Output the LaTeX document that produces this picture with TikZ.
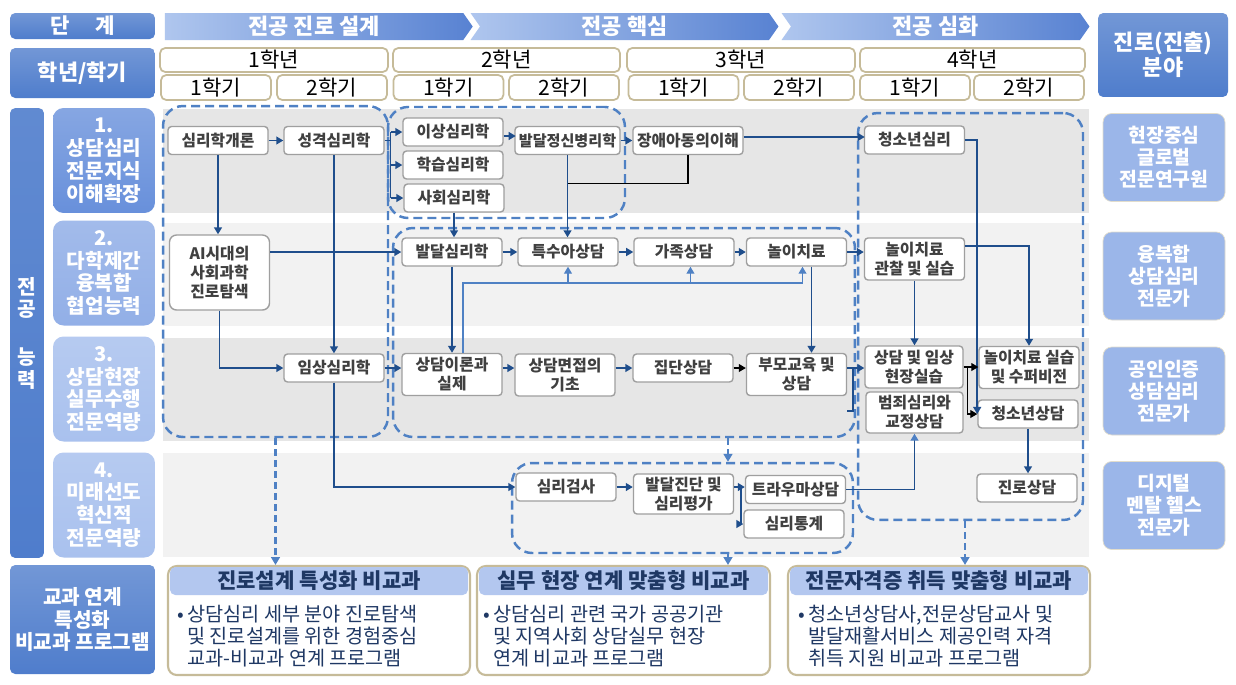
\documentclass[tikz,border=0pt]{standalone}
\usepackage{fontspec}
\setmainfont{Noto Sans CJK KR}
\usetikzlibrary{arrows.meta,shapes.symbols}

\definecolor{navy}{HTML}{1F4E8C}
\definecolor{grpblue}{HTML}{4F81C4}
\definecolor{hdrblue}{HTML}{4F7DCC}
\definecolor{chevlight}{HTML}{AFC6EE}
\definecolor{chevdark}{HTML}{5882D2}
\definecolor{compA}{HTML}{6890DB}
\definecolor{compB}{HTML}{92AFE7}
\definecolor{compC}{HTML}{A9C1EE}
\definecolor{goalblue}{HTML}{9BB6E9}
\definecolor{tanline}{HTML}{C6BB99}
\definecolor{bandgray}{HTML}{E6E6E6}
\definecolor{bandlight}{HTML}{F2F2F2}
\definecolor{textgray}{HTML}{404040}
\definecolor{headfill}{HTML}{B3C7EF}
\definecolor{progtext}{HTML}{1F3864}

\begin{document}
\begin{tikzpicture}[x=0.02cm, y=-0.02cm, >={Triangle[length=4pt,width=4.5pt]}, node distance=2.32cm,
	hdr/.style={top color=hdrblue!80!white, bottom color=hdrblue, rounded corners=3pt, text=white, font=\bfseries\fontsize{11.5}{13}\selectfont, align=center, inner sep=0pt},
	chev/.style={signal, signal to=east, signal pointer angle=110, left color=chevlight, right color=chevdark, minimum height=0.54cm, minimum width=6.16cm, text=white, font=\bfseries\fontsize{12.5}{14}\selectfont, inner sep=0pt},
	yearbox/.style={draw=tanline, line width=1pt, fill=white, rounded corners=3pt, minimum height=0.48cm, font=\fontsize{12}{13}\selectfont, inner sep=0pt},
	sembox/.style={yearbox, minimum width=2.2cm, minimum height=0.5cm},
	comp/.style={rounded corners=6pt, text=white, font=\bfseries\fontsize{11.5}{13}\selectfont, align=center, minimum width=2.04cm, minimum height=2.1cm, inner sep=0pt},
	goal/.style={fill=goalblue, draw=tanline!50, rounded corners=5pt, text=white, font=\bfseries\fontsize{11}{12.5}\selectfont, align=center, minimum width=2.44cm, minimum height=1.76cm, inner sep=0pt},
	band/.style={fill=#1, draw=white, line width=1pt},
	grp/.style={draw=grpblue, line width=1.4pt, dash pattern=on 0.18cm off 0.1cm, rounded corners=0.4cm, inner sep=0pt},
	course/.style={draw=gray!75, line width=0.8pt, fill=white, rounded corners=2pt, minimum width=2cm, minimum height=0.56cm, inner sep=1pt, text=textgray, font=\bfseries\fontsize{9}{10.8}\selectfont, align=center},
	course2/.style={course, minimum height=0.84cm},
	link/.style={draw=navy, line width=0.9pt},
	arr/.style={link, ->},
	tlink/.style={draw=black, line width=0.7pt},
	tarr/.style={tlink, ->},
	fblink/.style={draw=grpblue, line width=0.8pt},
	fbarr/.style={fblink, ->},
	uparr/.style={link, -{Triangle[length=4pt,width=4.5pt,color=grpblue]}},
	dasharr/.style={draw=grpblue, line width=1.3pt, dash pattern=on 0.14cm off 0.08cm, -{Triangle[length=4.5pt,width=5pt]}},
	progbox/.style={draw=tanline, line width=1.2pt, fill=white, rounded corners=5pt, minimum height=2.18cm},
	prohead/.style={fill=headfill, rounded corners=3pt, minimum height=0.56cm, text=progtext, font=\bfseries\fontsize{12}{13}\selectfont, inner sep=0pt},
	progtxt/.style={anchor=west, align=left, text=progtext, font=\fontsize{11.2}{12.6}\selectfont, inner sep=0pt}]

	\useasboundingbox (0,0) rectangle (1236,684);
	\fill[white] (0,0) rectangle (1236,684);

	% Row bands
	\draw[band=bandgray]  (162,108) rectangle (1090,214);
	\draw[band=bandlight] (162,222) rectangle (1090,327);
	\draw[band=bandgray]  (162,337) rectangle (1090,442);
	\draw[band=bandlight] (162,452) rectangle (1090,558);

	% Header {stage, year, term}
	\node [hdr, minimum width=2.9cm, minimum height=0.52cm, font=\bfseries\fontsize{12}{13}\selectfont] (stage) at (82.5,26) {단\hspace{1.2em}계};
	\node [hdr, minimum width=2.9cm, minimum height=1cm, font=\bfseries\fontsize{12.5}{13}\selectfont] (term) at (82.5,73) {학년/학기};
	\node [hdr, minimum width=2.6cm, minimum height=1.68cm, font=\bfseries\fontsize{12.5}{14}\selectfont] (career) at (1163,55) {진로(진출)\\분야};
	\node [chev]                        (st1) at (314,26.5)   {전공 진로 설계};
	\node [chev, signal from=west]      (st2) at (624.5,26.5) {전공 핵심};
	\node [chev, signal from=west]      (st3) at (935.5,26.5) {전공 심화};

	\node [yearbox, minimum width=4.56cm] (y1) at (274,60)   {1학년};
	\node [yearbox, minimum width=4.54cm] (y2) at (506.5,60) {2학년};
	\node [yearbox, minimum width=4.56cm] (y3) at (741,60)   {3학년};
	\node [yearbox, minimum width=4.5cm]  (y4) at (972.5,60) {4학년};
	\node [sembox] (s11) at (216,87.5)   {1학기};
	\node [sembox] (s12) at (332,87.5)   {2학기};
	\node [sembox] (s21) at (448.5,87.5) {1학기};
	\node [sembox] (s22) at (564,87.5)   {2학기};
	\node [sembox] (s31) at (683.5,87.5) {1학기};
	\node [sembox] (s32) at (799,87.5)   {2학기};
	\node [sembox] (s41) at (915,87.5)   {1학기};
	\node [sembox] (s42) at (1029,87.5)  {2학기};

	% Competencies and goals
	\node [hdr, minimum width=0.68cm, minimum height=9cm, top color=hdrblue!90!white] (major) at (27,333) {전\\공\\[14pt]능\\력};
	\node [comp, top color=compA!80!white, bottom color=compA] (c1) at (104,160.5) {1.\\상담심리\\전문지식\\이해확장};
	\node [comp, top color=compB!85!white, bottom color=compB] (c2) at (104,273)   {2.\\다학제간\\융복합\\협업능력};
	\node [comp, top color=compC!85!white, bottom color=compC] (c3) at (104,389)   {3.\\상담현장\\실무수행\\전문역량};
	\node [comp, top color=compC!85!white, bottom color=compC] (c4) at (104,505)   {4.\\미래선도\\혁신적\\전문역량};
	\node [goal] (g1) at (1164,157.5) {현장중심\\글로벌\\전문연구원};
	\node [goal] (g2) at (1164,276)   {융복합\\상담심리\\전문가};
	\node [goal] (g3) at (1164,391)   {공인인증\\상담심리\\전문가};
	\node [goal] (g4) at (1164,505.5) {디지털\\멘탈 헬스\\전문가};

	% Course groups
	\node [grp, minimum width=4.5cm,  minimum height=6.62cm] (grpA) at (275.5,271.5) {};
	\node [grp, minimum width=4.74cm, minimum height=2.22cm] (grpB) at (506.5,162.5) {};
	\node [grp, minimum width=9.24cm, minimum height=4.18cm] (grpC) at (624,332.5)   {};
	\node [grp, minimum width=4.5cm,  minimum height=8.14cm] (grpD) at (970.5,316.5) {};
	\node [grp, minimum width=6.82cm, minimum height=1.8cm]  (grpE) at (682.5,508)   {};

	% Courses, row 1
	\node [course] (intro)    at (218,140.5)       {심리학개론};
	\node [course] (perso)    [right of=intro]     {성격심리학};
	\node [course] (abn)      at (453,132)         {이상심리학};
	\node [course] (learn)    at (453,165)         {학습심리학};
	\node [course] (social)   at (454,198)         {사회심리학};
	\node [course, minimum width=2.1cm, inner sep=0pt, font=\bfseries\fontsize{8.6}{10.5}\selectfont] (devpath) at (567.5,140.5) {발달정신병리학};
	\node [course, minimum width=2.2cm, inner sep=0pt] (disab) at (688,140.5) {장애아동의이해};
	\node [course] (youthpsy) at (914.5,140)       {청소년심리};

	% Courses, row 2
	\node [course, minimum height=1.5cm, rounded corners=4pt] (aicareer) at (219.5,272.5) {AI시대의\\사회과학\\진로탐색};
	\node [course] (devpsy)   at (452,252)         {발달심리학};
	\node [course] (special)  [right of=devpsy]    {특수아상담};
	\node [course] (family)   [right of=special]   {가족상담};
	\node [course] (play)     at (796.5,252)       {놀이치료};
	\node [course2] (playobs) at (914.5,259)       {놀이치료\\관찰 및 실습};

	% Courses, row 3
	\node [course] (clinic)    at (334,368)        {임상심리학};
	\node [course2] (theory)   at (452,374.5)      {상담이론과\\실제};
	\node [course2] (interview) at (565,375)       {상담면접의\\기초};
	\node [course] (groupcoun) at (683,368)        {집단상담};
	\node [course2] (parent)   at (796.5,374.5)    {부모교육 및\\상담};
	\node [course2, minimum width=1.96cm, inner sep=0pt] (fieldprac) at (914,367) {상담 및 임상\\현장실습};
	\node [course2, minimum width=1.94cm, minimum height=0.82cm] (crime) at (914.5,412.5) {범죄심리와\\교정상담};
	\node [course2, inner sep=0pt] (playsup) at (1029,367.5) {놀이치료 실습\\및 수퍼비전};
	\node [course] (youthcoun) at (1028,414)       {청소년상담};

	% Courses, row 4
	\node [course] (test)       at (566,487)       {심리검사};
	\node [course2, minimum height=0.8cm] (devdiag) at (683.5,494) {발달진단 및\\심리평가};
	\node [course] (trauma)     at (795.5,489.5)   {트라우마상담};
	\node [course] (stats)      at (794,524)       {심리통계};
	\node [course] (careercoun) at (1027,488)      {진로상담};

	% Extracurricular programmes
	\node [hdr, minimum width=2.9cm, minimum height=2.18cm] (extra) at (82.5,619.5) {교과 연계\\특성화\\비교과 프로그램};
	\node [progbox, minimum width=6.04cm] (prog1) at (319,620.5) {};
	\node [progbox, minimum width=5.86cm] (prog2) at (623.5,620.5) {};
	\node [progbox, minimum width=6.04cm] (prog3) at (939,620.5) {};
	\node [prohead, minimum width=5.96cm] (head1) at (319,581)   {진로설계 특성화 비교과};
	\node [prohead, minimum width=5.78cm] (head2) at (623.5,581) {실무 현장 연계 맞춤형 비교과};
	\node [prohead, minimum width=5.96cm] (head3) at (939,581)   {전문자격증 취득 맞춤형 비교과};
	\node [progtxt] (text1) at (177,636) {•\,상담심리 세부 분야 진로탐색\\\phantom{•\,}및 진로설계를 위한 경험중심\\\phantom{•\,}교과-비교과 연계 프로그램};
	\node [progtxt] (text2) at (483,636) {•\,상담심리 관련 국가 공공기관\\\phantom{•\,}및 지역사회 상담실무 현장\\\phantom{•\,}연계 비교과 프로그램};
	\node [progtxt] (text3) at (798,636) {•\,청소년상담사,전문상담교사 및\\\phantom{•\,}발달재활서비스 제공인력 자격\\\phantom{•\,}취득 지원 비교과 프로그램};

	% Paths, row 1
	\draw [arr] (intro) -- (perso);
	\draw [arr] (intro.south) -- (intro.south |- aicareer.north);
	\draw [arr] (perso.south) -- (perso.south |- clinic.north);
	\draw [link] (perso.east) -- ++(6,0) coordinate (fanb);
	\draw [link] (fanb |- abn.west) -- (fanb |- social.west);
	\draw [arr] (fanb |- abn.west) -- (abn.west);
	\draw [arr] (fanb |- learn.west) -- (learn.west);
	\draw [arr] (fanb |- social.west) -- (social.west);
	\draw [arr] ([yshift=-0.08cm]abn.east) -- ++(12,0);
	\draw [arr] (devpath) -- (disab);
	\draw [arr] ([yshift=0.07cm]disab.east) -- ++(121,0);
	\draw [arr] (devpath.south) -- (devpath.south |- special.north);
	\draw [tlink] (disab.south) -- ++(0,28) coordinate (jd) -- (jd -| devpath.south);
	\draw [arr] (social.south) -- (social.south |- devpsy.north);

	% Paths, row 2
	\draw [arr] (aicareer.east |- devpsy.west) -- (devpsy.west);
	\draw [arr] (devpsy) -- (special);
	\draw [arr] (special) -- (family);
	\draw [arr] (family) -- (play);
	\draw [arr] (play.east) -- (play.east -| playobs.west);
	\coordinate (fbend) at ([xshift=0.12cm]play.south);
	\coordinate (famin) at ([xshift=0.13cm]family.south);
	\coordinate (pp)    at ([xshift=0.3cm]play.south);
	\draw [fblink] ([xshift=0.22cm]theory.north) -- ++(0,-70) coordinate (fb) -- (fb -| fbend);
	\draw [fbarr] (fb -| special.south) -- (special.south);
	\draw [fbarr] (fb -| famin) -- (famin);
	\draw [fbarr] (fb -| fbend) -- (fbend);
	\draw [arr] (pp) -- (pp |- parent.north);
	\draw [arr] (devpsy.south) -- (devpsy.south |- theory.north);
	\draw [arr] (aicareer.south) |- (clinic.west);
	\coordinate (po) at ([yshift=0.26cm]playobs.east);
	\draw [arr] (po) -| (playsup.north);
	\draw [arr] (playobs.south) -- (playobs.south |- fieldprac.north);
	\draw [arr] (youthpsy.east) -- ++(12,0) coordinate (yp) -- (yp |- youthcoun.west);

	% Paths, row 3
	\draw [arr] (clinic) -- (theory.west |- clinic);
	\draw [arr] (theory.east |- clinic) -- (interview.west |- clinic);
	\draw [arr] (interview.east |- clinic) -- (groupcoun);
	\draw [tarr] (groupcoun) -- (parent.west |- groupcoun);
	\draw [arr] (parent.east |- clinic) -- (fieldprac.west |- clinic);
	\draw [link] ([yshift=-0.3cm]parent.south east) -- ++(6,0) -- ++(0,-42);
	\draw [arr] (clinic.south) |- (test.west);
	\draw [tlink] (fieldprac.east) -- ++(4,0) coordinate (fanf);
	\draw [tarr] (fanf) -- (fanf -| playsup.west);
	\draw [tarr] (fanf) |- (youthcoun.west);
	\draw [arr] (youthcoun.south) -- (youthcoun.south |- careercoun.north);

	% Paths, row 4
	\draw [arr] (test.east) -- (test.east -| devdiag.west);
	\draw [link] (devdiag.east |- test.east) -- ++(7,0) coordinate (fand);
	\draw [arr] (fand) -- (fand -| trauma.west);
	\draw [arr] (fand) |- (stats.west);
	\draw [uparr] (trauma.east) -| (crime.south);

	% Paths to programmes
	\coordinate (gc) at ([xshift=2.08cm]grpC.south);
	\coordinate (ge) at ([xshift=0.91cm]grpE.south);
	\coordinate (gd) at ([xshift=-0.11cm]grpD.south);
	\draw [dasharr] (grpA.south) -- (grpA.south |- prog1.north);
	\draw [dasharr] (gc) -- (gc |- grpE.north);
	\draw [dasharr] (ge) -- (ge |- prog2.north);
	\draw [dasharr] (gd) -- (gd |- prog3.north);

\end{tikzpicture}
\end{document}
